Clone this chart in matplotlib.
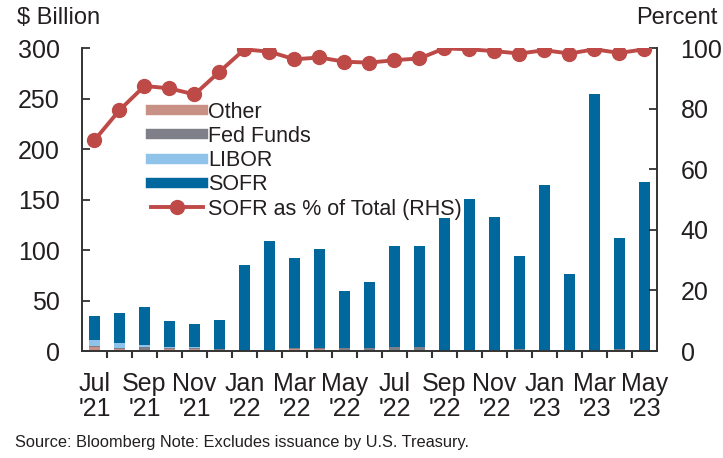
import matplotlib
matplotlib.use('Agg')
import matplotlib.pyplot as plt
from matplotlib.lines import Line2D
import numpy as np

plt.rcParams['font.family'] = ['Liberation Sans', 'DejaVu Sans']

# 月份 (Jul '21 - May '23)
months = ['Jul 21', 'Aug 21', 'Sep 21', 'Oct 21', 'Nov 21', 'Dec 21',
          'Jan 22', 'Feb 22', 'Mar 22', 'Apr 22', 'May 22', 'Jun 22',
          'Jul 22', 'Aug 22', 'Sep 22', 'Oct 22', 'Nov 22', 'Dec 22',
          'Jan 23', 'Feb 23', 'Mar 23', 'Apr 23', 'May 23']
tick_labels = ["Jul\n'21", "Sep\n'21", "Nov\n'21", "Jan\n'22", "Mar\n'22", "May\n'22",
               "Jul\n'22", "Sep\n'22", "Nov\n'22", "Jan\n'23", "Mar\n'23", "May\n'23"]

# 发行量 ($ Billion)
other = [4.0, 1.5, 1.0, 1.5, 2.0, 1.0, 0.3, 1.0, 2.0, 1.5, 0.7, 0.3,
         0.5, 0.3, 0.1, 0.3, 1.0, 1.2, 0.6, 0.8, 0.5, 1.0, 0.4]
fed_funds = [1.0, 1.3, 2.5, 1.5, 1.3, 0.9, 0.0, 0.3, 1.4, 1.6, 2.0, 3.0,
             3.7, 3.2, 0.0, 0.3, 0.3, 0.5, 0.5, 0.6, 0.5, 0.8, 0.3]
libor = [5.6, 5.0, 2.0, 1.0, 0.8, 0.5, 0.0, 0.0, 0.0, 0.0, 0.0, 0.0,
         0.0, 0.0, 0.0, 0.0, 0.0, 0.0, 0.0, 0.0, 0.0, 0.0, 0.0]
sofr = [24.4, 30.2, 38.5, 26.0, 22.9, 28.6, 84.7, 107.7, 88.6, 97.9, 56.3, 64.7,
        99.8, 100.5, 131.9, 150.4, 131.7, 92.3, 162.9, 74.6, 254.0, 110.2, 166.3]
# SOFR 占比 (右轴, Percent)
sofr_pct = [69.6, 79.5, 87.5, 86.7, 84.7, 92.2, 99.6, 98.8, 96.3, 96.9, 95.5, 95.2,
            96.0, 96.6, 99.9, 99.6, 99.0, 98.2, 99.3, 98.2, 99.6, 98.4, 99.6]

c_other = '#C99186'
c_ff = '#7E7F88'
c_libor = '#8FC3EA'
c_sofr = '#00689C'
c_line = '#BE4A47'
txt = '#231F20'

fig = plt.figure(figsize=(7.23, 4.58), dpi=100)
ax = fig.add_axes([0.1134, 0.2336, 0.7953, 0.6614])
ax2 = ax.twinx()

x = np.arange(len(months))
w = 0.44
b1 = np.array(other)
b2 = b1 + np.array(fed_funds)
b3 = b2 + np.array(libor)
ax.bar(x, other, w, color=c_other, zorder=2)
ax.bar(x, fed_funds, w, bottom=b1, color=c_ff, zorder=2)
ax.bar(x, libor, w, bottom=b2, color=c_libor, zorder=2)
ax.bar(x, sofr, w, bottom=b3, color=c_sofr, zorder=2)

ax2.plot(x, sofr_pct, color=c_line, lw=2.8, marker='o', ms=10, zorder=3)

ax.set_xlim(-0.5, len(months) - 0.5)
ax.set_ylim(0, 300)
ax2.set_ylim(0, 100)
ax.set_yticks(range(0, 301, 50))
ax2.set_yticks(range(0, 101, 20))

# x 轴: 标签居中于柱子, 刻度线在月份分界处
ax.set_xticks(x[::2], tick_labels)
ax.set_xticks(np.arange(0.5, len(months) - 0.5, 1), minor=True)
ax.tick_params(axis='x', which='major', length=0, pad=15, labelsize=18, colors=txt)
ax.tick_params(axis='x', which='minor', length=5, width=1.5, direction='out', color='#333333')
ax.tick_params(axis='y', length=6, width=1.2, direction='in', labelsize=18, colors=txt, pad=16)
ax2.tick_params(axis='y', length=6, width=1.2, direction='in', labelsize=18, colors=txt, pad=17)
for lab in ax.get_xticklabels():
    lab.set_linespacing(1.08)

for a in (ax, ax2):
    a.spines['top'].set_visible(False)
    for s in ('left', 'right', 'bottom'):
        a.spines[s].set_color('#333333')
        a.spines[s].set_linewidth(1.2)

fig.text(0.023, 0.96, '$ Billion', fontsize=17, color=txt, ha='left', va='center')
fig.text(0.993, 0.96, 'Percent', fontsize=17, color=txt, ha='right', va='center')
fig.text(0.021, 0.033, 'Source: Bloomberg Note: Excludes issuance by U.S. Treasury.',
         fontsize=11.8, color=txt, ha='left', va='center')

handles = [Line2D([], [], color=c_other, lw=7.5),
           Line2D([], [], color=c_ff, lw=7.5),
           Line2D([], [], color=c_libor, lw=7.5),
           Line2D([], [], color=c_sofr, lw=7.5),
           Line2D([], [], color=c_line, lw=2.8, marker='o', ms=10)]
labels = ['Other', 'Fed Funds', 'LIBOR', 'SOFR', 'SOFR as % of Total (RHS)']
leg = ax2.legend(handles, labels, loc='upper left', bbox_to_anchor=(0.12, 0.823),
                 frameon=False, fontsize=15.5, handlelength=2.4, handletextpad=0.25,
                 labelspacing=0.15, borderpad=0, borderaxespad=0, labelcolor=txt)
leg.set_zorder(5)

plt.savefig('out.png', dpi=100)
plt.close()
